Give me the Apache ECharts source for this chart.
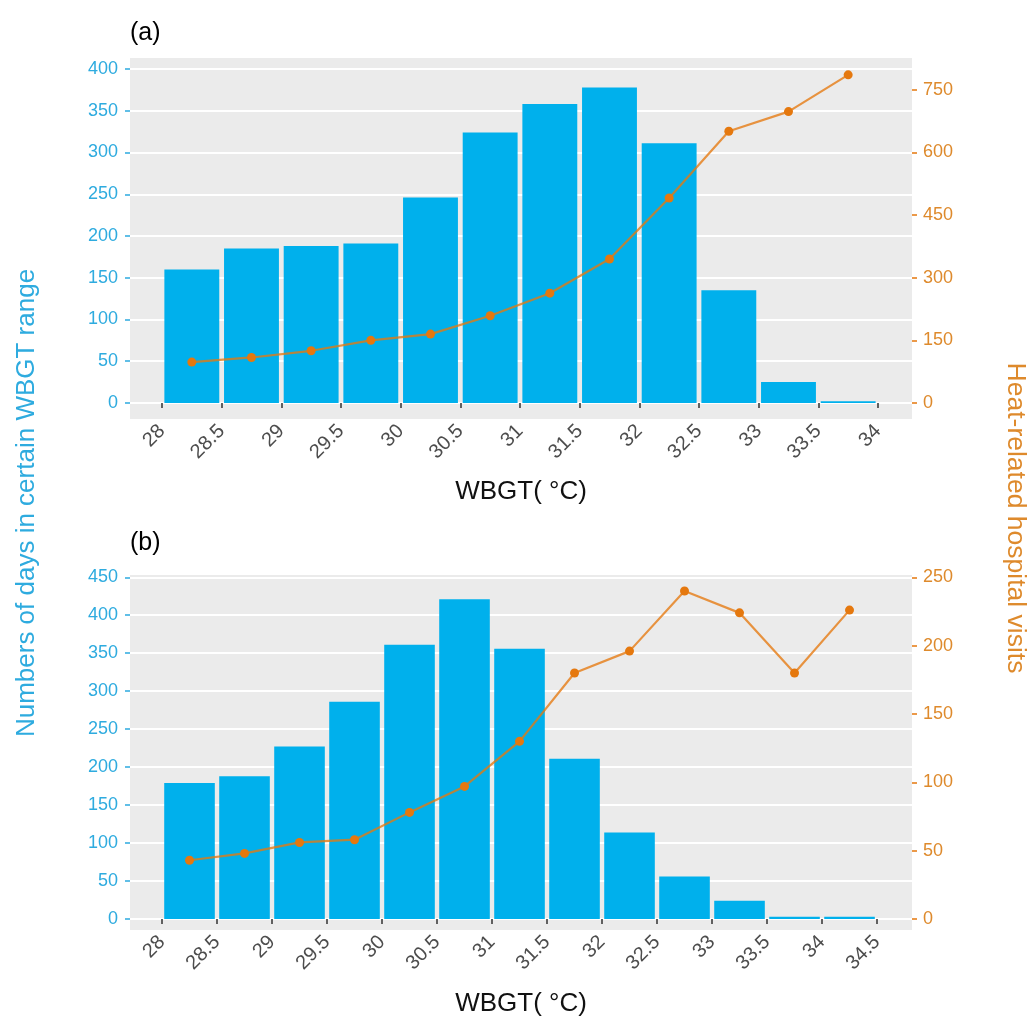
<!DOCTYPE html>
<html><head><meta charset="utf-8">
<script src="https://cdn.jsdelivr.net/npm/echarts@6/dist/echarts.min.js"></script>
<style>html,body{margin:0;padding:0;background:#fff}#c{width:1029px;height:1019px}</style>
</head><body><div id="c"></div>
<script>
// ---------- Panel (a) ----------
const binLowerA = [28, 28.5, 29, 29.5, 30, 30.5, 31, 31.5, 32, 32.5, 33, 33.5];
const daysA = [160, 185, 188, 191, 246, 324, 358, 378, 311, 135, 25, 2];
const visitsA = [98, 109, 125, 150, 165, 209, 263, 345, 491, 651, 698, 786];
const xTicksA = [28, 28.5, 29, 29.5, 30, 30.5, 31, 31.5, 32, 32.5, 33, 33.5, 34];
const leftTicksA = [0, 50, 100, 150, 200, 250, 300, 350, 400];
const rightTicksA = [0, 150, 300, 450, 600, 750];

// ---------- Panel (b) ----------
const binLowerB = [28, 28.5, 29, 29.5, 30, 30.5, 31, 31.5, 32, 32.5, 33, 33.5, 34];
const daysB = [179, 188, 227, 286, 361, 421, 356, 211, 114, 56, 24, 3, 3];
const visitsB = [43, 48, 56, 58, 78, 97, 130, 180, 196, 240, 224, 180, 226];
const xTicksB = [28, 28.5, 29, 29.5, 30, 30.5, 31, 31.5, 32, 32.5, 33, 33.5, 34, 34.5];
const leftTicksB = [0, 50, 100, 150, 200, 250, 300, 350, 400, 450];
const rightTicksB = [0, 50, 100, 150, 200, 250];

const binWidth = 0.5;
const xTitle = 'WBGT( °C)';
const leftTitle = 'Numbers of days in certain WBGT range';
const rightTitle = 'Heat-related hospital visits';

const FONT = '"Liberation Sans", Arial, Helvetica, sans-serif';
const barBlue = '#00B0EC';
const txtBlue = '#2EABDF';
const lineOrange = '#E5780E';
const txtOrange = '#DE8A2C';
const panelGrey = '#EBEBEB';

function pairs(lower, vals) {
  return lower.map((l, i) => [l + binWidth / 2, vals[i]]);
}

function xAxisDef(gi, min, max, ticks, nameGap) {
  return {
    gridIndex: gi, type: 'value', min: min, max: max,
    axisLine: { show: false },
    splitLine: { show: false },
    axisTick: { show: true, customValues: ticks, length: 5, lineStyle: { color: '#333333', width: 1.5 } },
    axisLabel: { customValues: ticks, rotate: 45, fontSize: 20, color: '#4D4D4D', margin: 9, fontFamily: FONT,
                 formatter: v => String(v) },
    name: xTitle, nameLocation: 'middle', nameGap: nameGap,
    nameTextStyle: { fontSize: 26, color: '#111', fontFamily: FONT }
  };
}
function leftAxisDef(gi, min, max, ticks) {
  return {
    gridIndex: gi, type: 'value', position: 'left', min: min, max: max,
    axisLine: { show: false },
    axisTick: { show: true, customValues: ticks, length: 5, lineStyle: { color: txtBlue, width: 1.5 } },
    axisLabel: { customValues: ticks, color: txtBlue, fontSize: 18, margin: 12, fontFamily: FONT },
    splitLine: { show: true, lineStyle: { color: '#FFFFFF', width: 2 } }
  };
}
function rightAxisDef(gi, min, max, ticks) {
  return {
    gridIndex: gi, type: 'value', position: 'right', min: min, max: max,
    axisLine: { show: false },
    axisTick: { show: true, customValues: ticks, length: 5, lineStyle: { color: lineOrange, width: 1.5 } },
    axisLabel: { customValues: ticks, color: txtOrange, fontSize: 18, margin: 11, fontFamily: FONT },
    splitLine: { show: false }
  };
}
function barSeries(xi, yi, lower, vals) {
  return {
    type: 'bar', xAxisIndex: xi, yAxisIndex: yi, data: pairs(lower, vals),
    barWidth: '92%', itemStyle: { color: barBlue }, silent: true, z: 2
  };
}
function lineSeries(xi, yi, lower, vals) {
  return {
    type: 'line', xAxisIndex: xi, yAxisIndex: yi, data: pairs(lower, vals),
    symbol: 'circle', symbolSize: 9,
    lineStyle: { color: lineOrange, width: 2.2, opacity: 0.78 },
    itemStyle: { color: lineOrange }, z: 3, silent: true
  };
}

const chart = echarts.init(document.getElementById('c'), null, { renderer: 'canvas' });
chart.setOption({
  animation: false,
  backgroundColor: '#FFFFFF',
  textStyle: { fontFamily: FONT },
  grid: [
    { left: 130, right: 117, top: 58, height: 361, show: true, backgroundColor: panelGrey, borderWidth: 0 },
    { left: 130, right: 117, top: 575, height: 355, show: true, backgroundColor: panelGrey, borderWidth: 0 }
  ],
  xAxis: [
    xAxisDef(0, 27.732, 34.285, xTicksA, 60),
    xAxisDef(1, 27.709, 34.818, xTicksB, 61)
  ],
  yAxis: [
    leftAxisDef(0, -19.2, 413.2, leftTicksA),
    rightAxisDef(0, -38.4, 826.4, rightTicksA),
    leftAxisDef(1, -14.5, 453, leftTicksB),
    rightAxisDef(1, -8.06, 251.7, rightTicksB)
  ],
  series: [
    barSeries(0, 0, binLowerA, daysA),
    lineSeries(0, 1, binLowerA, visitsA),
    barSeries(1, 2, binLowerB, daysB),
    lineSeries(1, 3, binLowerB, visitsB)
  ],
  graphic: [
    { type: 'text', x: 130, y: 21, style: { text: '(a)', fontSize: 25, fill: '#000', fontFamily: FONT, textVerticalAlign: 'top' } },
    { type: 'text', x: 130, y: 531, style: { text: '(b)', fontSize: 25, fill: '#000', fontFamily: FONT, textVerticalAlign: 'top' } },
    { type: 'text', x: 27, y: 503, rotation: Math.PI / 2,
      style: { text: leftTitle, fontSize: 26, fill: txtBlue, fontFamily: FONT, textAlign: 'center', textVerticalAlign: 'middle' } },
    { type: 'text', x: 1015, y: 518, rotation: -Math.PI / 2,
      style: { text: rightTitle, fontSize: 26.5, fill: txtOrange, fontFamily: FONT, textAlign: 'center', textVerticalAlign: 'middle' } }
  ]
});
</script>
</body></html>
